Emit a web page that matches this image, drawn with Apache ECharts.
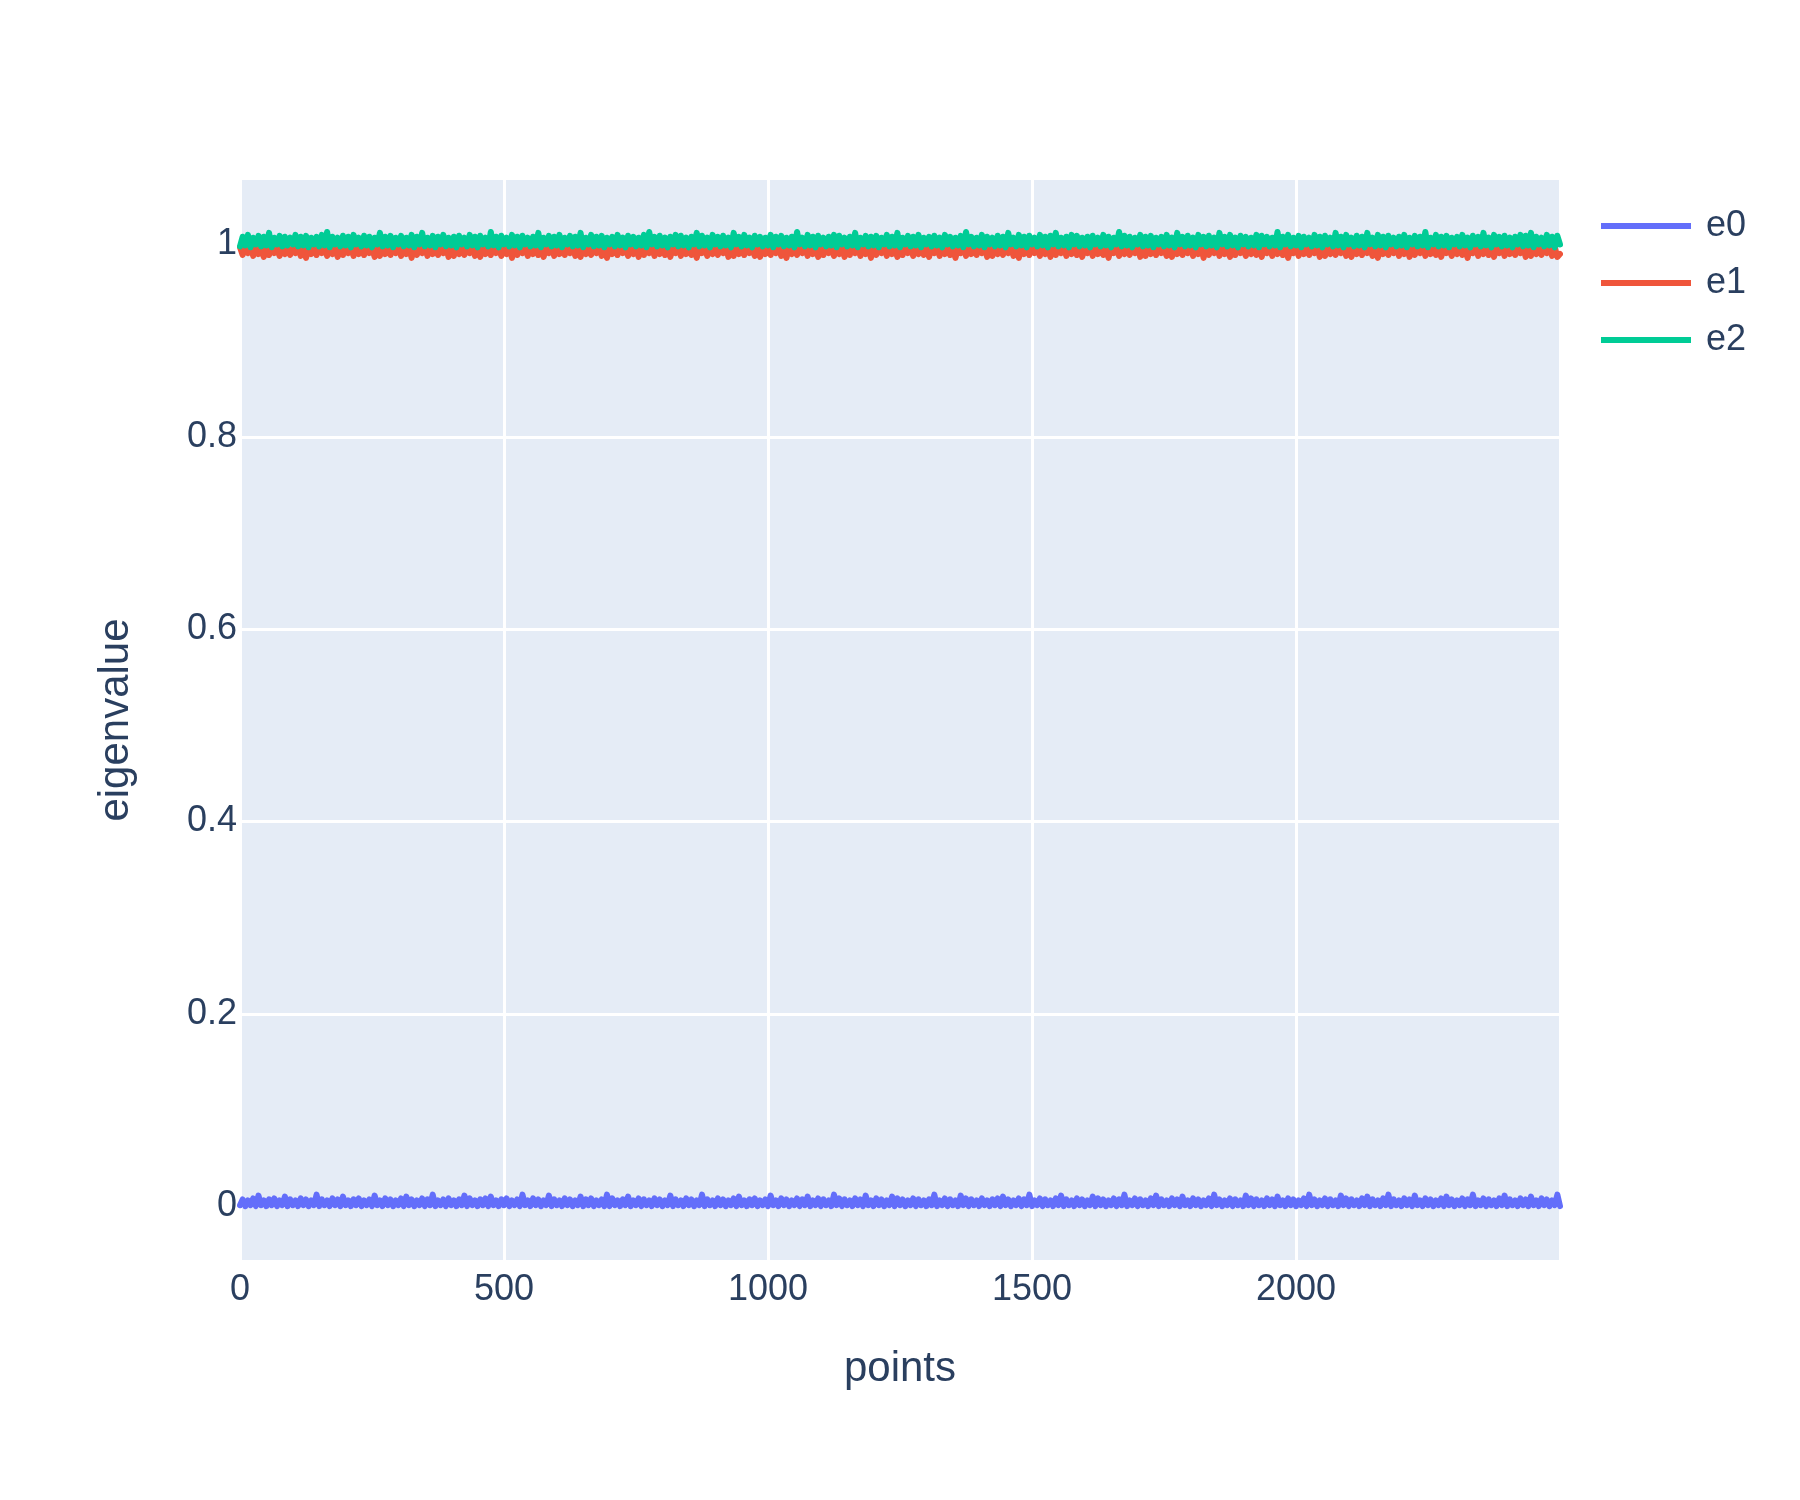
<!DOCTYPE html>
<html>
<head>
<meta charset="utf-8">
<script src="https://cdn.jsdelivr.net/npm/echarts@6/dist/echarts.min.js"></script>
<style>html,body{margin:0;padding:0;background:#fff}#c{width:1800px;height:1500px}</style>
</head>
<body>
<div id="c"></div>
<script>
// x positions: sample index * step (points 0..2500)
const xStart = 0;
const xStep = 5;
const seriesNames = ['e0', 'e1', 'e2'];
const xTicks = [0, 500, 1000, 1500, 2000];
const yTicks = [0, 0.2, 0.4, 0.6, 0.8, 1];

const e0 = [
0.001,0.007,0.000,0.006,0.001,0.008,0.000,0.011,0.001,0.006,0.000,0.007,0.001,0.008,0.000,0.006,0.001,0.010,0.000,0.007,
0.001,0.006,0.000,0.008,0.001,0.007,0.000,0.006,0.001,0.012,0.000,0.007,0.001,0.006,0.000,0.008,0.001,0.007,0.000,0.010,
0.001,0.006,0.000,0.007,0.001,0.008,0.000,0.006,0.001,0.007,0.000,0.011,0.001,0.006,0.000,0.008,0.001,0.007,0.000,0.006,
0.001,0.008,0.000,0.010,0.001,0.007,0.000,0.006,0.001,0.008,0.000,0.007,0.001,0.012,0.000,0.006,0.001,0.007,0.000,0.008,
0.001,0.006,0.000,0.007,0.001,0.011,0.000,0.008,0.001,0.006,0.000,0.007,0.001,0.008,0.000,0.010,0.001,0.006,0.000,0.007,
0.001,0.008,0.000,0.006,0.001,0.007,0.000,0.012,0.001,0.006,0.000,0.008,0.001,0.007,0.000,0.006,0.001,0.011,0.000,0.007,
0.001,0.006,0.000,0.008,0.001,0.007,0.000,0.006,0.001,0.010,0.000,0.007,0.001,0.008,0.000,0.006,0.001,0.007,0.000,0.012,
0.000,0.008,0.001,0.006,0.000,0.007,0.001,0.010,0.000,0.006,0.001,0.008,0.000,0.007,0.001,0.006,0.000,0.008,0.001,0.007,
0.000,0.006,0.001,0.011,0.000,0.007,0.001,0.006,0.000,0.008,0.001,0.007,0.000,0.006,0.001,0.012,0.000,0.007,0.001,0.006,
0.000,0.008,0.001,0.007,0.000,0.006,0.001,0.008,0.000,0.010,0.001,0.006,0.000,0.007,0.001,0.008,0.000,0.006,0.001,0.007,
0.000,0.011,0.001,0.006,0.000,0.008,0.001,0.007,0.000,0.006,0.001,0.008,0.000,0.007,0.001,0.010,0.000,0.006,0.001,0.008,
0.000,0.007,0.001,0.006,0.000,0.012,0.001,0.008,0.000,0.007,0.001,0.006,0.000,0.008,0.001,0.007,0.000,0.011,0.001,0.006,
0.000,0.008,0.001,0.007,0.000,0.006,0.001,0.010,0.000,0.008,0.001,0.007,0.000,0.006,0.001,0.008,0.000,0.007,0.001,0.006,
0.000,0.007,0.001,0.012,0.000,0.006,0.001,0.008,0.000,0.007,0.001,0.006,0.000,0.011,0.001,0.008,0.000,0.007,0.001,0.006,
0.000,0.008,0.001,0.006,0.000,0.007,0.001,0.008,0.000,0.010,0.001,0.007,0.000,0.006,0.001,0.008,0.000,0.007,0.001,0.012,
0.000,0.006,0.001,0.008,0.000,0.007,0.001,0.006,0.000,0.008,0.001,0.011,0.000,0.007,0.001,0.006,0.000,0.008,0.001,0.007,
0.000,0.006,0.001,0.010,0.000,0.008,0.001,0.007,0.000,0.006,0.001,0.008,0.000,0.007,0.001,0.012,0.000,0.006,0.001,0.008,
0.000,0.007,0.001,0.006,0.000,0.008,0.001,0.011,0.000,0.007,0.001,0.006,0.000,0.008,0.001,0.007,0.000,0.010,0.001,0.006,
0.000,0.008,0.001,0.007,0.000,0.006,0.001,0.008,0.000,0.012,0.001,0.007,0.000,0.006,0.001,0.008,0.000,0.007,0.001,0.006,
0.000,0.011,0.001,0.008,0.000,0.007,0.001,0.006,0.000,0.008,0.001,0.007,0.000,0.010,0.001,0.006,0.000,0.008,0.001,0.007,
0.000,0.006,0.001,0.008,0.000,0.012,0.001,0.007,0.000,0.006,0.001,0.008,0.000,0.007,0.001,0.006,0.000,0.011,0.001,0.008,
0.000,0.007,0.001,0.006,0.000,0.008,0.001,0.010,0.000,0.007,0.001,0.006,0.000,0.008,0.001,0.012,0.000,0.007,0.001,0.006,
0.000,0.008,0.001,0.007,0.000,0.011,0.001,0.006,0.000,0.008,0.001,0.007,0.000,0.006,0.001,0.008,0.000,0.010,0.001,0.007,
0.000,0.006,0.001,0.008,0.000,0.007,0.001,0.012,0.000,0.006,0.001,0.008,0.000,0.007,0.001,0.006,0.000,0.008,0.001,0.011,
0.000,0.007,0.001,0.006,0.000,0.008,0.001,0.007,0.000,0.010,0.001,0.006,0.000,0.008,0.001,0.007,0.000,0.006,0.001,0.012,
0.000];

const e1 = [
0.997,0.989,0.996,0.991,0.998,0.988,0.997,0.990,0.996,0.987,0.998,0.989,0.997,0.991,0.996,0.988,0.998,0.990,0.997,0.989,
0.996,0.991,0.998,0.988,0.997,0.986,0.996,0.990,0.998,0.989,0.997,0.991,0.996,0.988,0.998,0.990,0.997,0.987,0.996,0.989,
0.998,0.991,0.997,0.988,0.996,0.990,0.998,0.989,0.997,0.991,0.996,0.987,0.998,0.988,0.997,0.990,0.996,0.989,0.998,0.991,
0.997,0.988,0.996,0.990,0.998,0.986,0.997,0.989,0.996,0.991,0.998,0.988,0.997,0.990,0.996,0.989,0.998,0.991,0.997,0.987,
0.996,0.988,0.998,0.990,0.997,0.989,0.996,0.991,0.998,0.988,0.997,0.987,0.996,0.990,0.998,0.989,0.997,0.991,0.996,0.988,
0.998,0.990,0.997,0.986,0.996,0.989,0.998,0.991,0.997,0.988,0.996,0.990,0.998,0.989,0.997,0.987,0.996,0.991,0.998,0.988,
0.997,0.990,0.996,0.989,0.998,0.991,0.997,0.988,0.996,0.987,0.998,0.990,0.997,0.989,0.996,0.991,0.998,0.988,0.997,0.986,
0.996,0.990,0.998,0.989,0.997,0.991,0.996,0.988,0.998,0.990,0.997,0.987,0.996,0.989,0.998,0.991,0.997,0.988,0.996,0.990,
0.998,0.989,0.997,0.987,0.996,0.991,0.998,0.988,0.997,0.990,0.996,0.989,0.998,0.986,0.997,0.991,0.996,0.988,0.998,0.990,
0.997,0.989,0.996,0.991,0.998,0.987,0.997,0.988,0.996,0.990,0.998,0.989,0.997,0.991,0.996,0.988,0.998,0.987,0.997,0.990,
0.996,0.989,0.998,0.991,0.997,0.988,0.996,0.986,0.998,0.990,0.997,0.989,0.996,0.991,0.998,0.988,0.997,0.990,0.996,0.987,
0.998,0.989,0.997,0.991,0.996,0.988,0.998,0.990,0.997,0.987,0.996,0.989,0.998,0.991,0.997,0.988,0.996,0.990,0.998,0.986,
0.997,0.989,0.996,0.991,0.998,0.988,0.997,0.990,0.996,0.987,0.998,0.989,0.997,0.991,0.996,0.988,0.998,0.990,0.997,0.989,
0.996,0.987,0.998,0.991,0.997,0.988,0.996,0.990,0.998,0.989,0.997,0.986,0.996,0.991,0.998,0.988,0.997,0.990,0.996,0.989,
0.998,0.991,0.997,0.987,0.996,0.988,0.998,0.990,0.997,0.989,0.996,0.991,0.998,0.988,0.997,0.986,0.996,0.990,0.998,0.989,
0.997,0.991,0.996,0.988,0.998,0.990,0.997,0.987,0.996,0.989,0.998,0.991,0.997,0.988,0.996,0.990,0.998,0.989,0.997,0.987,
0.996,0.991,0.998,0.988,0.997,0.990,0.996,0.989,0.998,0.986,0.997,0.991,0.996,0.988,0.998,0.990,0.997,0.989,0.996,0.991,
0.998,0.987,0.997,0.988,0.996,0.990,0.998,0.989,0.997,0.991,0.996,0.988,0.998,0.987,0.997,0.990,0.996,0.989,0.998,0.991,
0.997,0.988,0.996,0.990,0.998,0.986,0.997,0.989,0.996,0.991,0.998,0.988,0.997,0.990,0.996,0.987,0.998,0.989,0.997,0.991,
0.996,0.988,0.998,0.990,0.997,0.989,0.996,0.987,0.998,0.991,0.997,0.988,0.996,0.990,0.998,0.989,0.997,0.986,0.996,0.991,
0.998,0.988,0.997,0.990,0.996,0.989,0.998,0.991,0.997,0.987,0.996,0.988,0.998,0.990,0.997,0.989,0.996,0.991,0.998,0.988,
0.997,0.987,0.996,0.990,0.998,0.989,0.997,0.991,0.996,0.988,0.998,0.986,0.997,0.990,0.996,0.989,0.998,0.991,0.997,0.988,
0.996,0.990,0.998,0.987,0.997,0.989,0.996,0.991,0.998,0.988,0.997,0.990,0.996,0.989,0.998,0.987,0.997,0.991,0.996,0.988,
0.998,0.990,0.997,0.989,0.996,0.986,0.998,0.991,0.997,0.988,0.996,0.990,0.998,0.989,0.997,0.987,0.996,0.991,0.998,0.988,
0.997,0.990,0.996,0.989,0.998,0.991,0.997,0.987,0.996,0.988,0.998,0.990,0.997,0.989,0.996,0.991,0.998,0.988,0.997,0.987,
0.990];

const e2 = [
0.998,1.008,0.999,1.010,0.997,1.007,1.000,1.009,0.998,1.008,0.999,1.012,0.997,1.007,1.000,1.009,0.998,1.008,0.999,1.007,
1.000,1.010,0.998,1.008,0.999,1.009,0.997,1.007,1.000,1.008,0.998,1.010,0.999,1.013,0.997,1.008,1.000,1.007,0.998,1.009,
0.999,1.008,0.997,1.010,1.000,1.007,0.998,1.009,0.999,1.008,0.997,1.007,1.000,1.012,0.998,1.008,0.999,1.009,0.997,1.007,
1.000,1.009,0.998,1.007,0.999,1.010,0.997,1.008,1.000,1.012,0.998,1.007,0.999,1.009,0.997,1.008,1.000,1.010,0.998,1.007,
0.999,1.008,0.997,1.009,1.000,1.007,0.998,1.010,0.999,1.008,0.997,1.009,1.000,1.007,0.998,1.013,0.999,1.008,0.997,1.009,
1.000,1.007,0.998,1.010,0.999,1.008,0.997,1.009,1.000,1.007,0.998,1.008,0.999,1.012,0.997,1.007,1.000,1.009,0.998,1.008,
0.999,1.010,0.997,1.007,1.000,1.009,0.998,1.008,0.999,1.012,0.997,1.007,1.000,1.010,0.998,1.008,0.999,1.009,0.997,1.007,
1.000,1.008,0.998,1.010,0.999,1.007,0.997,1.009,1.000,1.008,0.998,1.007,0.999,1.010,0.997,1.013,1.000,1.008,0.998,1.009,
0.999,1.007,0.997,1.008,1.000,1.010,0.998,1.009,0.999,1.007,0.997,1.008,1.000,1.012,0.998,1.009,0.999,1.007,0.997,1.010,
1.000,1.008,0.998,1.009,0.999,1.007,0.997,1.012,1.000,1.008,0.998,1.010,0.999,1.007,0.997,1.009,1.000,1.008,0.998,1.007,
0.999,1.010,0.997,1.008,1.000,1.009,0.998,1.007,0.999,1.008,0.997,1.013,1.000,1.007,0.998,1.010,0.999,1.008,0.997,1.009,
1.000,1.007,0.998,1.008,0.999,1.010,0.997,1.009,1.000,1.007,0.998,1.008,0.999,1.012,0.997,1.007,1.000,1.009,0.998,1.008,
0.999,1.009,0.997,1.007,1.000,1.010,0.998,1.008,0.999,1.012,0.997,1.007,1.000,1.009,0.998,1.008,0.999,1.010,0.997,1.007,
1.000,1.008,0.998,1.009,0.999,1.007,0.997,1.010,1.000,1.008,0.998,1.007,0.999,1.009,0.997,1.013,1.000,1.008,0.998,1.007,
0.999,1.010,0.997,1.008,1.000,1.007,0.998,1.009,0.999,1.008,0.997,1.012,1.000,1.007,0.998,1.010,0.999,1.008,0.997,1.009,
1.000,1.007,0.998,1.010,0.999,1.008,0.997,1.009,1.000,1.012,0.998,1.007,0.999,1.008,0.997,1.010,1.000,1.009,0.998,1.007,
0.999,1.008,0.997,1.009,1.000,1.007,0.998,1.010,0.999,1.008,0.997,1.007,1.000,1.013,0.998,1.009,0.999,1.008,0.997,1.007,
1.000,1.010,0.998,1.008,0.999,1.009,0.997,1.007,1.000,1.008,0.998,1.010,0.999,1.007,0.997,1.012,1.000,1.008,0.998,1.009,
0.999,1.007,0.997,1.010,1.000,1.008,0.998,1.009,0.999,1.007,0.997,1.012,1.000,1.008,0.998,1.010,0.999,1.007,0.997,1.009,
1.000,1.008,0.998,1.007,0.999,1.010,0.997,1.009,1.000,1.008,0.998,1.007,0.999,1.013,0.997,1.008,1.000,1.010,0.998,1.007,
0.999,1.009,0.997,1.008,1.000,1.007,0.998,1.010,0.999,1.008,0.997,1.009,1.000,1.007,0.998,1.012,0.999,1.008,0.997,1.010,
1.000,1.007,0.998,1.009,0.999,1.008,0.997,1.012,1.000,1.007,0.998,1.010,0.999,1.008,0.997,1.009,1.000,1.007,0.998,1.008,
0.999,1.010,0.997,1.007,1.000,1.009,0.998,1.008,0.999,1.013,0.997,1.007,1.000,1.010,0.998,1.008,0.999,1.009,0.997,1.007,
1.000,1.008,0.998,1.010,0.999,1.007,0.997,1.009,1.000,1.008,0.998,1.012,0.999,1.007,0.997,1.010,1.000,1.008,0.998,1.009,
0.999,1.007,0.997,1.008,1.000,1.010,0.998,1.009,0.999,1.012,0.997,1.008,1.000,1.007,0.998,1.010,0.999,1.008,0.997,1.009,
1.000];

const colors = ['#636efa', '#EF553B', '#00cc96'];
const textColor = '#2a3f5f';
const font = '"Liberation Sans", Arial, sans-serif';

function toPairs(arr) {
  return arr.map((v, i) => [xStart + i * xStep, v]);
}

const chart = echarts.init(document.getElementById('c'), null, {renderer: 'canvas'});
chart.setOption({
  animation: false,
  backgroundColor: '#ffffff',
  textStyle: {fontFamily: font, color: textColor},
  grid: {left: 240, top: 180, width: 1320, height: 1080, show: true, backgroundColor: '#E5ECF6', borderWidth: 0},
  legend: {
    orient: 'vertical', left: 1596, top: 203,
    itemWidth: 90, itemHeight: 6, itemGap: 21, icon: 'rect',
    textStyle: {fontSize: 36, color: textColor, fontFamily: font, lineHeight: 36, padding: [0, 0, 0, 10]},
    data: seriesNames
  },
  xAxis: {
    type: 'value', min: 0, max: 2500, interval: 500,
    axisLine: {show: false}, axisTick: {show: false},
    splitLine: {show: true, lineStyle: {color: '#ffffff', width: 3}},
    axisLabel: {fontSize: 36, color: textColor, fontFamily: font, margin: 12,
      customValues: xTicks, formatter: v => String(v)},
    name: 'points', nameLocation: 'middle', nameGap: 88,
    nameTextStyle: {fontSize: 42, color: textColor, fontFamily: font}
  },
  yAxis: {
    type: 'value', min: -0.056, max: 1.067,
    axisLine: {show: false}, axisTick: {show: false, customValues: yTicks},
    splitLine: {show: true, lineStyle: {color: '#ffffff', width: 3}},
    axisLabel: {fontSize: 36, color: textColor, fontFamily: font, margin: 3,
      customValues: yTicks, formatter: v => String(+v.toFixed(1))},
    name: 'eigenvalue', nameLocation: 'middle', nameGap: 103,
    nameTextStyle: {fontSize: 42, color: textColor, fontFamily: font}
  },
  series: [e0, e1, e2].map((arr, k) => ({
    name: seriesNames[k], type: 'line', data: toPairs(arr),
    showSymbol: false, symbol: 'none', sampling: null,
    color: colors[k],
    lineStyle: {width: 6, color: colors[k], join: 'round', cap: 'round'},
    z: 2 + k
  }))
});
</script>
</body>
</html>
